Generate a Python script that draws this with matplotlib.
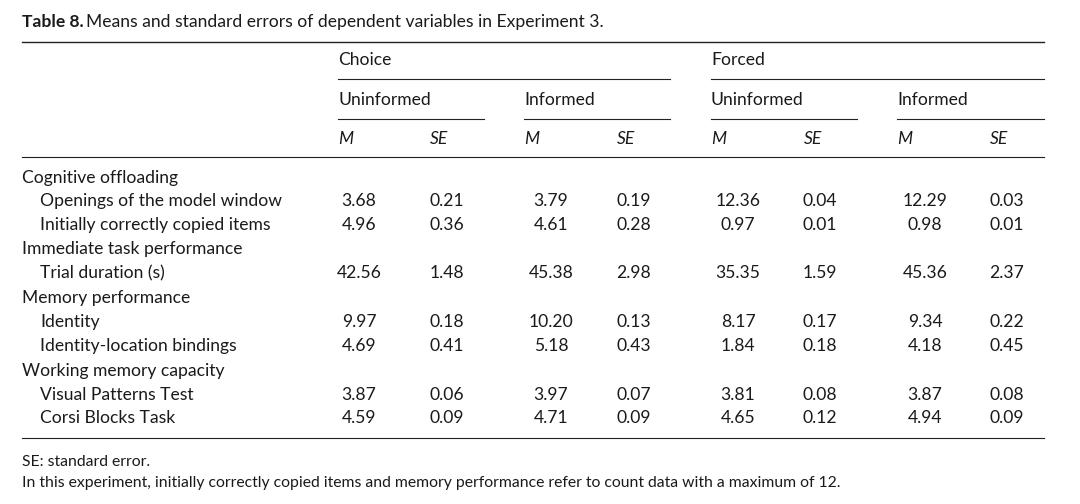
import matplotlib.pyplot as plt

plt.rcParams['font.family'] = ['Lato', 'DejaVu Sans']

W, H = 1080, 504

groups = ['Choice', 'Forced']
subgroups = ['Uninformed', 'Informed', 'Uninformed', 'Informed']
stats = ['M', 'SE']

# (label, is_section, values)
rows = [
    ('Cognitive offloading', True, None),
    ('Openings of the model window', False, ['3.68', '0.21', '3.79', '0.19', '12.36', '0.04', '12.29', '0.03']),
    ('Initially correctly copied items', False, ['4.96', '0.36', '4.61', '0.28', '0.97', '0.01', '0.98', '0.01']),
    ('Immediate task performance', True, None),
    ('Trial duration (s)', False, ['42.56', '1.48', '45.38', '2.98', '35.35', '1.59', '45.36', '2.37']),
    ('Memory performance', True, None),
    ('Identity', False, ['9.97', '0.18', '10.20', '0.13', '8.17', '0.17', '9.34', '0.22']),
    ('Identity-location bindings', False, ['4.69', '0.41', '5.18', '0.43', '1.84', '0.18', '4.18', '0.45']),
    ('Working memory capacity', True, None),
    ('Visual Patterns Test', False, ['3.87', '0.06', '3.97', '0.07', '3.81', '0.08', '3.87', '0.08']),
    ('Corsi Blocks Task', False, ['4.59', '0.09', '4.71', '0.09', '4.65', '0.12', '4.94', '0.09']),
]
row_y = [178, 201, 225, 249, 273, 298, 322, 346, 371, 395, 418]

fig = plt.figure(figsize=(W / 100, H / 100), dpi=100)
ax = fig.add_axes([0, 0, 1, 1])
ax.set_xlim(0, W)
ax.set_ylim(H, 0)
ax.axis('off')

fs = 12.6
kw = dict(fontsize=fs, va='center', color='#1a1a1a')

ax.text(22, 22, 'Table 8.', fontweight='bold', ha='left', **kw)
ax.text(86, 22, 'Means and standard errors of dependent variables in Experiment 3.', ha='left', **kw)

ax.plot([22, 1044], [42, 42], color='#222', lw=1)
ax.plot([22, 1044], [157, 157], color='#222', lw=0.8)
ax.plot([22, 1044], [438, 438], color='#222', lw=0.8)

group_x = [(338, 670), (711, 1044)]
for g, (x0, x1) in zip(groups, group_x):
    ax.text(x0, 60, g, ha='left', **kw)
    ax.plot([x0, x1], [79, 79], color='#222', lw=0.8)

sub_x = [(338, 484), (524, 670), (711, 857), (897, 1044)]
for s, (x0, x1) in zip(subgroups, sub_x):
    ax.text(x0, 100, s, ha='left', **kw)
    ax.plot([x0, x1], [119, 119], color='#222', lw=0.8)

m_x = [338, 524, 711, 897]
se_x = [430, 617, 804, 990]
for mx, sx in zip(m_x, se_x):
    ax.text(mx, 139, stats[0], ha='left', style='italic', **kw)
    ax.text(sx, 139, stats[1], ha='left', style='italic', **kw)

val_x = [359, 447, 551, 634, 738, 820, 925, 1007]
for (label, section, vals), y in zip(rows, row_y):
    ax.text(22 if section else 40, y, label, ha='left', **kw)
    if vals:
        for v, x in zip(vals, val_x):
            ax.text(x, y, v, ha='center', **kw)

ax.text(22, 462, 'SE: standard error.', ha='left', fontsize=11.3, va='center', color='#1a1a1a')
ax.text(22, 483, 'In this experiment, initially correctly copied items and memory performance refer to count data with a maximum of 12.',
        ha='left', fontsize=11.3, va='center', color='#1a1a1a')

fig.savefig('out.png', dpi=100, facecolor='white')
